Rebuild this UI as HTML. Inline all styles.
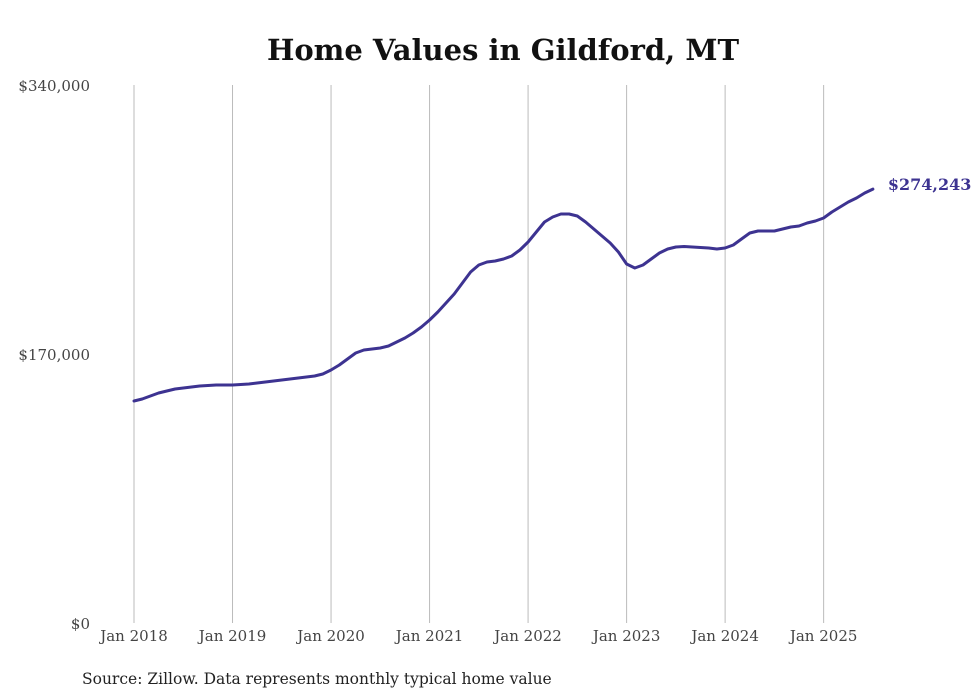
<!DOCTYPE html>
<html><head><meta charset="utf-8"><style>
body{margin:0;background:#fff;}
svg{display:block;font-family:"DejaVu Serif","Liberation Serif",serif;}
</style></head><body>
<svg id="chart" width="980" height="699" viewBox="0 0 980 699">
<text x="503" y="60" text-anchor="middle" font-size="29" font-weight="bold" fill="#111">Home Values in Gildford, MT</text>
<g id="grid"></g><g id="axes"></g><g id="series"></g>
<text x="82" y="684" font-size="15.5" fill="#222">Source: Zillow. Data represents monthly typical home value</text>
</svg>
<script>
const years = ["Jan 2018","Jan 2019","Jan 2020","Jan 2021","Jan 2022","Jan 2023","Jan 2024","Jan 2025"];
const yTicks = [0,170000,340000];
const yTickLabels = ["$0","$170,000","$340,000"];
const values = [
140304,141568,143464,145360,146624,147888,148520,149152,149784,150100,150416,150416,
150416,150732,151048,151680,152312,152944,153576,154208,154840,155472,156104,157368,
159896,163056,166848,170640,172536,173168,173800,175064,177592,180120,183280,187072,
191496,196552,202240,207928,214880,221832,226256,228152,228784,230048,231944,235736,
240792,247112,253432,256592,258488,258488,257224,253432,249008,244584,240160,234472,
226888,224360,226256,230048,233840,236368,237632,237948,237632,237316,237000,236368,
237000,238896,242688,246480,247744,247744,247744,249008,250272,250904,252800,254064,
255960,259752,262912,266072,268600,271760,274243];
const lastLabel = "$274,243";
const ns="http://www.w3.org/2000/svg";
const x0=134, pxPerMonth=8.21, yBase=623, yTop=85, yMax=340000;
function xs(i){return x0+i*pxPerMonth;}
function ys(v){return yBase-(v/yMax)*(yBase-yTop);}
function mk(t,a,p){const e=document.createElementNS(ns,t);for(const k in a)e.setAttribute(k,a[k]);p.appendChild(e);return e;}
const grid=document.getElementById('grid'),axes=document.getElementById('axes'),ser=document.getElementById('series');
years.forEach((y,i)=>{
  const x=xs(i*12);
  const l=mk('line',{x1:x,x2:x,y1:yTop,y2:yBase,stroke:'#bbb','stroke-width':1},grid);
  
  
  const t=mk('text',{x:x,y:641,'text-anchor':'middle','font-size':15,fill:'#444'},axes);
  t.textContent=y;
  
  
});
yTicks.forEach((v,i)=>{
  const t=mk('text',{x:90,y:ys(v)+6,'text-anchor':'end','font-size':15,fill:'#444'},axes);
  t.textContent=yTickLabels[i];
  
  
});
const d=values.map((v,i)=>(i?'L':'M')+xs(i).toFixed(1)+','+ys(v).toFixed(1)).join(' ');
const p=mk('path',{d:d,fill:'none',stroke:'#3d3391','stroke-width':3,'stroke-linejoin':'round','stroke-linecap':'round'},ser);


const li=values.length-1;
const lt=mk('text',{x:xs(li)+15,y:ys(values[li])+1,'font-size':16,'font-weight':'bold',fill:'#3d3391'},ser);
lt.textContent=lastLabel;


</script>
</body></html>
